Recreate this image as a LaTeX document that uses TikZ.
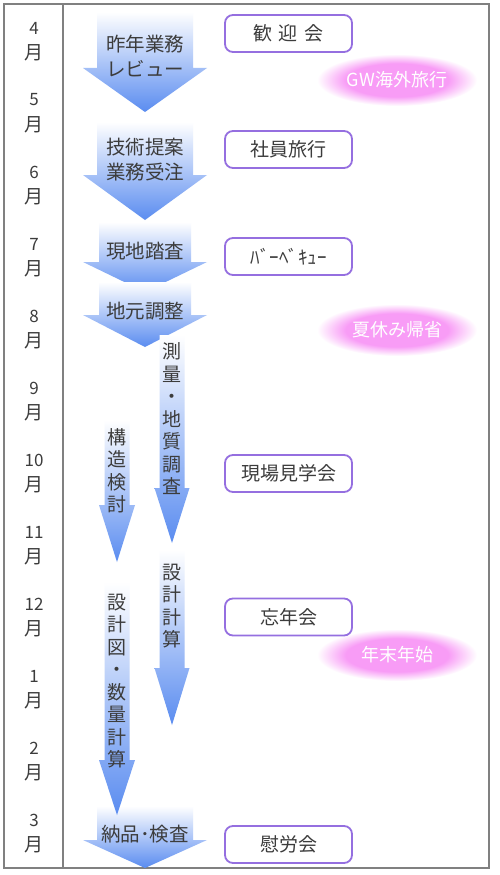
\documentclass[tikz,border=0pt]{standalone}
\usepackage{fontspec}
\setmainfont{Noto Sans CJK JP}
\definecolor{framec}{HTML}{808080}
\definecolor{arrowblue}{HTML}{5A8CF0}
\definecolor{evtborder}{HTML}{956FE0}
\definecolor{txt}{HTML}{3C3C3C}
\definecolor{glowpink}{HTML}{F89CF6}
\pgfdeclareradialshading{glow}{\pgfpoint{0bp}{0bp}}{color(0bp)=(glowpink); color(16bp)=(glowpink); color(25bp)=(white); color(50bp)=(white)}
\newcommand\blockarrow[6]{%
  \shade[top color=white, bottom color=arrowblue]
    ({#1-#3},#2) -- ({#1+#3},#2) -- ({#1+#3},#4) -- ({#1+#5},#4) -- (#1,#6)
    -- ({#1-#5},#4) -- ({#1-#3},#4) -- cycle;}
\begin{document}
\begin{tikzpicture}[x=1pt,y=-1pt,
  month/.style={text=txt, font=\fontsize{17}{20}\selectfont, inner sep=0pt},
  atext/.style={text=txt, font=\fontsize{19.5}{25}\selectfont, align=center, inner sep=0pt},
  vtext/.style={text=txt, font=\fontsize{19}{22.5}\selectfont, align=center, inner sep=0pt},
  evt/.style={draw=evtborder, line width=1.8pt, rounded corners=8pt, fill=white,
    minimum width=127pt, minimum height=37pt, text=txt, font=\fontsize{19}{22}\selectfont},
  glowtext/.style={text=white, font=\fontsize{18}{22}\selectfont, inner sep=0pt}]
\useasboundingbox (0,0) rectangle (500,875);
\fill[white] (0,0) rectangle (500,875);
% frame
\draw[framec, line width=1.2pt] (4,4) rectangle (489,868);
\draw[framec, line width=1.2pt] (63,4) -- (63,868);
% months
\foreach \m [count=\i from 0] in {4,5,6,7,8,9,10,11,12,1,2,3}{
  \node[month] (mn\i) at (34,{28+72*\i}) {\m};
  \node[month, font=\fontsize{19}{22}\selectfont] (my\i) at (34,{53+72*\i}) {月};
}
% glows
\shade[shading=glow] (397,80) ellipse [x radius=80pt, y radius=26pt];
\shade[shading=glow] (397,330) ellipse [x radius=80pt, y radius=26pt];
\shade[shading=glow] (397,655) ellipse [x radius=80pt, y radius=26pt];
\node[glowtext] (g1) at (397,80) {GW海外旅行};
\node[glowtext] (g2) at (397,330) {夏休み帰省};
\node[glowtext] (g3) at (397,655) {年末年始};
% horizontal-text arrows
\blockarrow{145}{12}{48}{68}{62}{112}
\blockarrow{145}{122}{48}{175}{62}{220}
\blockarrow{145}{222}{46}{262}{62}{292}
\blockarrow{145}{282}{46}{315}{62}{347}
\blockarrow{145}{806}{48}{840}{62}{868}
% vertical arrows
\blockarrow{172}{335}{12.5}{488}{17.5}{543}
\blockarrow{117}{420}{12.5}{505}{18}{562}
\blockarrow{172}{550}{12.5}{668}{17.5}{725}
\blockarrow{117}{582}{12.5}{760}{18}{815}
% arrow texts
\node[atext] (t1) at (145,56) {昨年業務\\レビュー};
\node[atext] (t2) at (145,160) {技術提案\\業務受注};
\node[atext] (t3) at (145,251) {現地踏査};
\node[atext] (t4) at (145,311) {地元調整};
\node[atext] (t5) at (145,834) {納品･検査};
\node[vtext] (v1) at (172,419) {測\\量\\・\\地\\質\\調\\査};
\node[vtext] (v2) at (117,471) {構\\造\\検\\討};
\node[vtext] (v3) at (172,606) {設\\計\\計\\算};
\node[vtext] (v4) at (117,681) {設\\計\\図\\・\\数\\量\\計\\算};
% events
\node[evt] (e1) at (288.5,33.5) {歓\hspace{7pt}迎\hspace{7pt}会};
\node[evt] (e2) at (288.5,149.5) {社員旅行};
\node[evt] (e3) at (288.5,256.5) {ﾊﾞｰﾍﾞｷｭｰ};
\node[evt] (e4) at (288.5,473.5) {現場見学会};
\node[evt] (e5) at (288.5,617) {忘年会};
\node[evt] (e6) at (288.5,844.5) {慰労会};
\end{tikzpicture}
\end{document}
